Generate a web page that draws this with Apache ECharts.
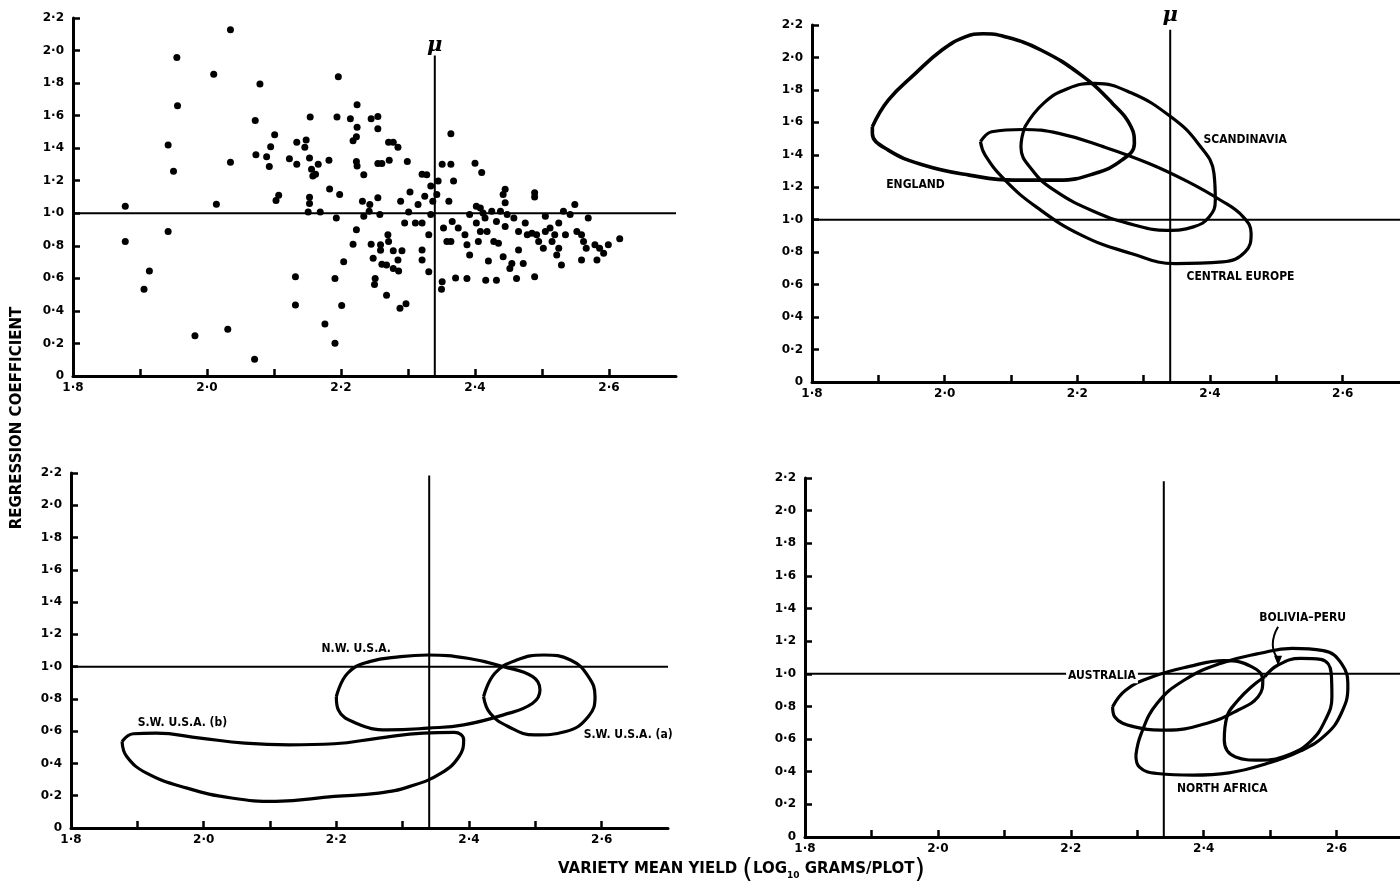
<!DOCTYPE html>
<html><head><meta charset="utf-8">
<script src="https://cdn.jsdelivr.net/npm/echarts@6/dist/echarts.min.js"></script>
<style>html,body{margin:0;padding:0;background:#fff}#c{width:1400px;height:893px}</style>
</head><body><div id="c"></div>
<script>
// ---------- DATA ----------
const MU = 2.34;
const xTicks = [1.8, 1.9, 2.0, 2.1, 2.2, 2.3, 2.4, 2.5, 2.6, 2.7];
const yTicks = [0, 0.2, 0.4, 0.6, 0.8, 1.0, 1.2, 1.4, 1.6, 1.8, 2.0, 2.2];

// Panel 1: individual varieties (mean yield, regression coefficient)
const varietyPoints = [
[1.878,1.043],[1.878,0.826],[1.914,0.645],[1.906,0.533],[1.942,1.419],[1.950,1.258],[1.942,0.888],
[1.955,1.957],[1.956,1.661],[1.982,0.248],[2.010,1.855],[2.014,1.056],[2.035,2.128],[2.035,1.314],
[2.031,0.287],[2.072,1.570],[2.079,1.795],[2.073,1.360],[2.089,1.347],[2.093,1.287],[2.095,1.409],
[2.101,1.483],[2.071,0.103],[2.103,1.079],[2.107,1.110],[2.123,1.335],[2.134,1.436],[2.134,1.302],
[2.148,1.450],[2.146,1.405],[2.132,0.610],[2.132,0.436],[2.154,1.591],[2.153,1.339],[2.156,1.271],
[2.166,1.302],[2.158,1.229],[2.162,1.240],[2.153,1.099],[2.153,1.060],[2.151,1.008],[2.169,1.008],
[2.182,1.326],[2.183,1.149],[2.176,0.320],[2.196,1.839],[2.194,1.591],[2.198,1.116],[2.193,0.971],
[2.191,0.599],[2.191,0.202],[2.201,0.434],[2.204,0.702],[2.214,1.581],[2.224,1.667],[2.224,1.529],
[2.223,1.471],[2.218,1.446],[2.223,1.318],[2.224,1.291],[2.234,1.236],[2.232,1.074],[2.242,1.012],
[2.234,0.981],[2.223,0.899],[2.218,0.810],[2.245,1.581],[2.255,1.595],[2.255,1.519],[2.255,1.306],
[2.261,1.306],[2.243,1.054],[2.255,1.095],[2.258,0.992],[2.245,0.810],[2.259,0.806],[2.248,0.723],
[2.259,0.773],[2.251,0.599],[2.250,0.562],[2.261,0.686],[2.271,1.436],[2.278,1.436],[2.285,1.405],
[2.272,1.326],[2.270,0.868],[2.271,0.826],[2.278,0.769],[2.268,0.682],[2.278,0.661],[2.285,0.713],
[2.286,0.645],[2.268,0.496],[2.291,0.769],[2.288,0.417],[2.297,0.444],[2.299,1.318],[2.289,1.074],
[2.301,1.008],[2.295,0.940],[2.303,1.130],[2.315,1.054],[2.321,1.240],[2.328,1.236],[2.325,1.105],
[2.311,0.940],[2.321,0.940],[2.321,0.775],[2.321,0.713],[2.331,0.640],[2.331,0.868],[2.334,1.167],
[2.337,1.074],[2.334,0.992],[2.345,1.198],[2.343,1.116],
[2.351,1.302],[2.364,1.302],[2.368,1.198],[2.364,1.488],[2.361,1.074],[2.353,0.909],[2.358,0.826],
[2.364,0.826],[2.351,0.579],[2.350,0.533],[2.366,0.950],[2.375,0.909],[2.371,0.603],[2.388,0.599],
[2.385,0.868],[2.392,0.744],[2.388,0.806],[2.392,0.992],[2.400,1.308],[2.410,1.250],[2.402,1.043],
[2.408,1.033],[2.412,1.002],[2.402,0.940],[2.408,0.888],[2.405,0.826],[2.415,0.971],[2.418,0.888],
[2.420,0.707],[2.416,0.589],[2.432,0.589],[2.425,1.012],[2.428,0.826],[2.435,0.816],[2.432,0.950],
[2.438,1.012],[2.442,1.116],[2.445,1.147],[2.445,1.064],[2.448,0.992],[2.445,0.919],[2.442,0.733],
[2.452,0.661],[2.455,0.692],[2.465,0.775],[2.458,0.971],[2.465,0.888],[2.462,0.599],[2.472,0.692],
[2.475,0.940],[2.478,0.868],[2.489,1.126],[2.489,1.100],[2.489,0.610],[2.485,0.878],[2.492,0.868],
[2.495,0.826],[2.502,0.785],[2.505,0.981],[2.505,0.888],[2.512,0.909],[2.515,0.826],[2.519,0.868],
[2.525,0.940],[2.522,0.744],[2.529,0.682],[2.525,0.785],[2.532,1.012],[2.535,0.868],[2.542,0.992],
[2.549,1.054],[2.552,0.888],[2.559,0.868],[2.562,0.826],[2.569,0.971],[2.566,0.785],[2.559,0.713],
[2.579,0.806],[2.582,0.713],[2.586,0.785],[2.592,0.754],[2.599,0.806],[2.616,0.843]
];

// Panel 2 regions
const englandLoop = [[1.891,1.573],[1.915,1.737],[1.956,1.902],[1.996,2.046],[2.030,2.125],[2.058,2.146],[2.091,2.128],[2.145,2.046],[2.206,1.891],[2.253,1.717],[2.281,1.573],[2.286,1.470],[2.267,1.367],[2.226,1.285],[2.172,1.244],[2.105,1.244],[2.037,1.275],[1.969,1.336],[1.915,1.429],[1.891,1.532],[1.891,1.573]];
const scandinaviaLoop = [[2.121,1.573],[2.149,1.717],[2.186,1.809],[2.226,1.840],[2.281,1.782],[2.341,1.634],[2.382,1.470],[2.406,1.285],[2.408,1.120],[2.399,1.018],[2.375,0.956],[2.335,0.935],[2.287,0.966],[2.226,1.049],[2.165,1.182],[2.132,1.306],[2.115,1.449],[2.121,1.573]];
const centralEuropeLoop = [[2.054,1.480],[2.071,1.542],[2.118,1.556],[2.172,1.532],[2.240,1.449],[2.308,1.347],[2.362,1.244],[2.416,1.120],[2.450,1.018],[2.462,0.915],[2.453,0.802],[2.419,0.740],[2.348,0.730],[2.281,0.792],[2.206,0.905],[2.138,1.079],[2.091,1.244],[2.061,1.398],[2.054,1.480]];

// Panel 3 regions
const nwUsaLoop = [[2.200,0.814],[2.217,0.959],[2.250,1.031],[2.297,1.062],[2.338,1.072],[2.398,1.052],[2.452,1.000],[2.496,0.938],[2.507,0.856],[2.496,0.773],[2.452,0.701],[2.392,0.639],[2.338,0.619],[2.277,0.608],[2.230,0.649],[2.203,0.732],[2.200,0.814]];
const swUsaALoop = [[2.422,0.814],[2.439,0.959],[2.472,1.041],[2.513,1.072],[2.553,1.041],[2.580,0.938],[2.590,0.814],[2.580,0.691],[2.546,0.598],[2.499,0.577],[2.459,0.629],[2.432,0.711],[2.422,0.814]];
const swUsaBLoop = [[1.877,0.536],[1.894,0.584],[1.928,0.588],[1.995,0.557],[2.062,0.526],[2.129,0.515],[2.197,0.522],[2.264,0.557],[2.331,0.588],[2.378,0.592],[2.392,0.546],[2.385,0.443],[2.358,0.340],[2.311,0.258],[2.264,0.216],[2.197,0.196],[2.109,0.165],[2.042,0.186],[1.975,0.247],[1.914,0.340],[1.884,0.443],[1.877,0.536]];

// Panel 4 regions
const australiaLoop = [[2.263,0.798],[2.283,0.901],[2.323,0.982],[2.377,1.044],[2.431,1.081],[2.472,1.044],[2.489,0.962],[2.482,0.860],[2.452,0.778],[2.404,0.696],[2.344,0.655],[2.296,0.675],[2.266,0.737],[2.263,0.798]];
const northAfricaLoop = [[2.298,0.501],[2.306,0.634],[2.330,0.819],[2.371,0.962],[2.425,1.064],[2.485,1.126],[2.533,1.156],[2.580,1.142],[2.608,1.060],[2.617,0.921],[2.607,0.757],[2.583,0.624],[2.546,0.528],[2.492,0.446],[2.438,0.393],[2.384,0.379],[2.330,0.389],[2.303,0.430],[2.298,0.501]];
const boliviaPeruLoop = [[2.492,0.982],[2.512,1.054],[2.546,1.095],[2.576,1.089],[2.592,1.003],[2.593,0.860],[2.583,0.716],[2.560,0.583],[2.526,0.501],[2.485,0.471],[2.448,0.491],[2.431,0.594],[2.435,0.737],[2.452,0.839],[2.472,0.921],[2.492,0.982]];
const boliviaArrow = [[2.512,1.289],[2.504,1.180],[2.511,1.095]];
const boliviaArrowHead = [2.512,1.080];

// region names and their label anchors
const labels2 = [['ENGLAND',1.956,1.213],['SCANDINAVIA',2.453,1.490],['CENTRAL EUROPE',2.446,0.648]];
const labels3 = [['N.W. U.S.A.',2.23,1.113],['S.W. U.S.A. (b)',1.968,0.649],['S.W. U.S.A. (a)',2.64,0.577]];
const labels4 = [['BOLIVIA\u2013PERU',2.549,1.345],['NORTH AFRICA',2.428,0.297]];
const australiaLabel = ['AUSTRALIA',2.247,0.985];

// reference lines
const hLineFull = [[1.8,1.0],[2.7,1.0]];
const muTops = [1.97, 2.17, 2.185, 2.18];
const muLabelY = [2.03, 2.26];

// ---------- CHART ----------
const INK = '#000';
const FONT = '"DejaVu Sans", "Liberation Sans", sans-serif';
const NARROW = '"Liberation Sans Narrow", "DejaVu Sans Condensed", "Liberation Sans", sans-serif';
const fmtX = v => { const k = Math.round(v*10); return k % 2 === 0 ? (k/10).toFixed(1).replace('.', '\u00b7') : ''; };
const fmtY = v => { const k = Math.round(v*10); return k === 0 ? '0' : (k/10).toFixed(1).replace('.', '\u00b7'); };

const grids = [
  {left:73, right:724, top:18, bottom:517},
  {left:812, right:-9, top:25, bottom:511},
  {left:71, right:732, top:473, bottom:65},
  {left:805, right:-3, top:478, bottom:56}
].map(g => Object.assign({containLabel:false, outerBoundsMode:'none'}, g));

const xAxes = grids.map((g,i) => ({
  gridIndex:i, type:'value', min:xTicks[0], max:xTicks[xTicks.length-1], interval:0.1,
  axisLine:{show:true, onZero:false, lineStyle:{color:INK, width:3}},
  axisTick:{show:true, inside:true, length:7, lineStyle:{color:INK, width:2.5}},
  axisLabel:{formatter:fmtX, color:INK, fontWeight:'bold', fontSize:12, fontFamily:FONT, margin:6, showMaxLabel:false},
  splitLine:{show:false}
}));
const yAxes = grids.map((g,i) => ({
  gridIndex:i, type:'value', min:yTicks[0], max:yTicks[yTicks.length-1], interval:0.2,
  axisLine:{show:true, onZero:false, lineStyle:{color:INK, width:3}},
  axisTick:{show:true, inside:true, length:7, lineStyle:{color:INK, width:2.5}},
  axisLabel:{formatter:fmtY, color:INK, fontWeight:'bold', fontSize:12, fontFamily:FONT, margin:9},
  splitLine:{show:false}
}));

const series = [];
const lineS = (i, data, w, extra) => Object.assign({
  type:'line', xAxisIndex:i, yAxisIndex:i, data:data, symbol:'none', showSymbol:false,
  lineStyle:{color:INK, width:w, opacity:1}, silent:true, animation:false, z:3
}, extra||{});

// scatter of varieties
series.push({type:'scatter', xAxisIndex:0, yAxisIndex:0, data:varietyPoints, symbolSize:7,
  itemStyle:{color:INK, opacity:1}, animation:false, z:4});

// reference lines
for (let i=0;i<4;i++){
  series.push(lineS(i, hLineFull, 2));
  series.push(lineS(i, [[MU,0],[MU,muTops[i]]], 2));
}
// mu labels
[0,1].forEach(i => series.push({type:'scatter', xAxisIndex:i, yAxisIndex:i, clip:false, animation:false,
  data:[{value:[MU, muLabelY[i]], name:'\u03bc'}], symbolSize:1, itemStyle:{color:'rgba(0,0,0,0)', opacity:1},
  label:{show:true, position:'inside', formatter:'{b}', color:INK, opacity:1, fontSize:21, fontStyle:'italic', fontWeight:'bold', fontFamily:'"DejaVu Serif", serif'}}));

// loops
const loopW = 3.2;
series.push(lineS(1, englandLoop, 3.6, {smooth:0.45}));
series.push(lineS(1, scandinaviaLoop, loopW, {smooth:0.45}));
series.push(lineS(1, centralEuropeLoop, loopW, {smooth:0.45}));
series.push(lineS(2, nwUsaLoop, loopW, {smooth:0.45}));
series.push(lineS(2, swUsaALoop, loopW, {smooth:0.45}));
series.push(lineS(2, swUsaBLoop, loopW, {smooth:0.45}));
series.push(lineS(3, australiaLoop, loopW, {smooth:0.45}));
series.push(lineS(3, northAfricaLoop, loopW, {smooth:0.45}));
series.push(lineS(3, boliviaPeruLoop, loopW, {smooth:0.45}));
series.push(lineS(3, boliviaArrow, 2, {smooth:0.5}));
series.push({type:'scatter', xAxisIndex:3, yAxisIndex:3, animation:false, z:5,
  data:[boliviaArrowHead], symbol:'triangle', symbolRotate:180, symbolSize:[8,10], itemStyle:{color:INK, opacity:1}});

// region labels
const labelSeries = (i, arr, bg) => ({type:'scatter', xAxisIndex:i, yAxisIndex:i, clip:false, animation:false, z:10,
  data:arr.map(a => ({value:[a[1], a[2]], name:a[0]})), symbolSize:1, itemStyle:{color:'rgba(0,0,0,0)', opacity:1},
  label:{show:true, position:'inside', formatter:'{b}', color:INK, opacity:1, fontSize:12, fontWeight:'bold', fontFamily:NARROW,
    backgroundColor:bg||'transparent', padding:bg?[1,2]:0}});
series.push(labelSeries(1, labels2));
series.push(labelSeries(2, labels3));
series.push(labelSeries(3, labels4));
series.push(labelSeries(3, [australiaLabel], '#fff'));

const option = {
  backgroundColor:'#fff',
  animation:false,
  grid:grids, xAxis:xAxes, yAxis:yAxes, series:series,
  graphic:[
    {type:'text', x:17, y:418, rotation:Math.PI/2,
     style:{text:'REGRESSION COEFFICIENT', fill:INK, font:'bold 15px '+FONT, align:'center', verticalAlign:'middle'}},
    {type:'text', x:558, y:856,
     style:{rich:{a:{fontSize:15, fontWeight:'bold', fontFamily:FONT, fill:INK},
                  p:{fontSize:27, fontFamily:FONT, fill:INK},
                  s:{fontSize:9, fontWeight:'bold', fontFamily:FONT, fill:INK, padding:[12,0,0,0]}},
            text:'{a|VARIETY MEAN YIELD }{p|(}{a|LOG}{s|10}{a| GRAMS/PLOT}{p|)}'}}
  ]
};
const chart = echarts.init(document.getElementById('c'), null, {renderer:'canvas'});
chart.setOption(option);
</script></body></html>
